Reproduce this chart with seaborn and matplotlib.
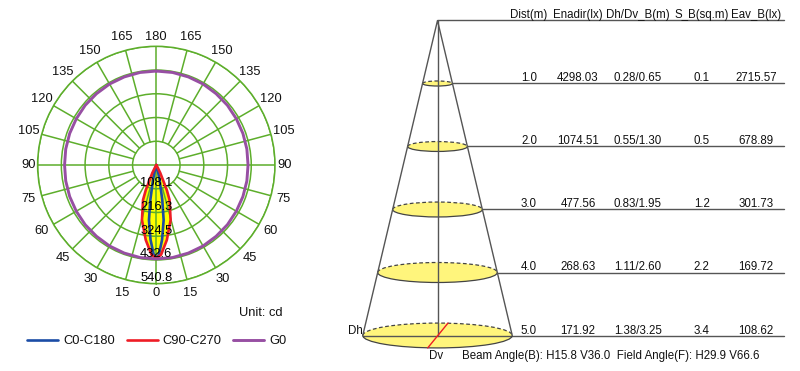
import numpy as np
import pandas as pd
import matplotlib
matplotlib.use("Agg")
import matplotlib.pyplot as plt
from matplotlib.patches import Ellipse, Arc
import seaborn as sns

# polar curve, one side of each curve (deg, cd), mirrored below
g0_angles = [0, 10, 20, 30, 40, 50, 60, 70, 80, 90, 100, 110, 120, 130, 140, 150, 160, 170, 180]
g0_cd = [428, 428, 427, 426, 424, 423, 421, 420, 419, 418, 419, 420, 421, 423, 424, 426, 427, 428, 428]
c0_angles = [0, 1.6, 4.4, 7.6, 9.7, 12.4, 14, 17]
c0_cd = [424, 410, 342, 253, 162, 70, 35, 0]
c90_angles = [0, 3, 8, 14.6, 20.8, 22.8, 24, 26.5, 28, 32]
c90_cd = [424, 410, 345, 259, 170, 123, 75, 41, 15, 0]

ring_values = [108.1, 216.3, 324.5, 432.6, 540.8]
ring_labels = ["108.1", "216.3", "324.5", "432.6", "540.8"]
spoke_angles = list(range(0, 360, 15))

# table
dist = [1.0, 2.0, 3.0, 4.0, 5.0]
enadir = ["4298.03", "1074.51", "477.56", "268.63", "171.92"]
dh = [0.28, 0.55, 0.83, 1.11, 1.38]
dv = [0.65, 1.30, 1.95, 2.60, 3.25]
s_b = ["0.1", "0.5", "1.2", "2.2", "3.4"]
eav = ["2715.57", "678.89", "301.73", "169.72", "108.62"]
headers = ["Dist(m)", "Enadir(lx)", "Dh/Dv_B(m)", "S_B(sq.m)", "Eav_B(lx)"]

GREEN = "#5DAE2B"
BLUE = "#1B4CA6"
RED = "#EE1C25"
PURPLE = "#974FA3"
DARK = "#555555"

sns.set_theme(style="white")
plt.rcParams["font.family"] = ["Liberation Sans", "DejaVu Sans"]

W, H = 800, 371
fig = plt.figure(figsize=(8, 3.71), dpi=100)

# left: polar diagram
cx, cy, R = 156.3, 165, 118.7
ax = fig.add_axes([(cx - R) / W, (H - cy - R) / H, 2 * R / W, 2 * R / H], projection="polar")
ax.set_theta_zero_location("S")
ax.set_rlim(0, 540.8)
ax.set_xticks([])
ax.set_rgrids(ring_values, labels=[""] * 5)
ax.yaxis.grid(True, color=GREEN, lw=1.1)
ax.set_axisbelow(False)
ax.spines["polar"].set_color(GREEN)
ax.spines["polar"].set_linewidth(1.1)
px = 540.8 / R


def mirrored(angles, values):
    a = np.radians(angles)
    v = np.array(values)
    return pd.DataFrame({"theta": np.r_[-a[::-1], a[1:]], "r": np.r_[v[::-1], v[1:]]})


red_df = mirrored(c90_angles, c90_cd)
blue_df = mirrored(c0_angles, c0_cd)
purple_df = mirrored(g0_angles, g0_cd)

ax.fill(red_df["theta"], red_df["r"], color="#FFFF00", zorder=1, lw=0)
for a in spoke_angles:
    start = 0 if a % 90 == 0 else ring_values[0]
    ax.plot(np.radians([a, a]), [start, 540.8], color=GREEN, lw=1.1, zorder=2.5)

sns.lineplot(data=blue_df, x="theta", y="r", sort=False, estimator=None, color=BLUE, lw=1.9, ax=ax, zorder=3, label="C0-C180")
sns.lineplot(data=red_df, x="theta", y="r", sort=False, estimator=None, color=RED, lw=1.9, ax=ax, zorder=4, label="C90-C270")
sns.lineplot(data=purple_df, x="theta", y="r", sort=False, estimator=None, color=PURPLE, lw=2.1, ax=ax, zorder=5, label="G0")
ax.set_xlabel("")
ax.set_ylabel("")
ax.set_rlim(0, 540.8)

handles, labels = ax.get_legend_handles_labels()
ax.get_legend().remove()
fig.legend(handles, labels, ncol=3, frameon=False, fontsize=9.3, loc="center left",
           bbox_to_anchor=(27 / W, (H - 341) / H), handlelength=2.4, handletextpad=0.4,
           columnspacing=0.9, borderaxespad=0, borderpad=0, labelcolor="#111111")

for a in range(0, 181, 15):
    r_lab = (128 if a % 90 == 0 else 132) * px
    for t in ([a] if a % 180 == 0 else [a, -a]):
        ax.text(np.radians(t), r_lab, str(a), ha="center", va="center", fontsize=9.3, color="#111111", clip_on=False)
for v, s in zip(ring_values, ring_labels):
    ax.text(0, v - 5.7 * px, s, ha="center", va="center", fontsize=9.3, color="black", zorder=6)
fig.text(261 / W, (H - 313) / H, "Unit: cd", ha="center", va="center", fontsize=9.3, color="#111111")

# right: beam cone, x and y in metres
apex_x, apex_y = 437.5, 20.5
mx, my = 46.0, 63.0
ax2 = fig.add_axes([340 / W, 0, 460 / W, 1])
ax2.set_xlim((340 - apex_x) / mx, (800 - apex_x) / mx)
ax2.set_ylim((371 - apex_y) / my, (0 - apex_y) / my)
ax2.patch.set_alpha(0)

line_end = (784 - apex_x) / mx
edge = dv[-1] / 2

cone = pd.DataFrame({"x": [-edge, 0, edge], "y": [dist[-1], 0, dist[-1]]})
sns.lineplot(data=cone, x="x", y="y", sort=False, estimator=None, color=DARK, lw=1, ax=ax2, zorder=4)
ax2.axis("off")
ax2.plot([0, line_end], [0, 0], color=DARK, lw=1, zorder=2)

for d, w, h in zip(dist, dv, dh):
    e_w, e_h = w, h * 18 / my
    ax2.add_patch(Ellipse((0, d), e_w, e_h, fc="#FFF57C", ec="none", zorder=1))
    ax2.add_patch(Arc((0, d), e_w, e_h, theta1=0, theta2=180, ec="#444444", lw=0.9, zorder=3))
    ax2.add_patch(Arc((0, d), e_w, e_h, theta1=180, theta2=360, ec="#444444", lw=0.9, ls=(0, (3, 2)), zorder=3))
    ax2.plot([w / 2, line_end], [d, d], color=DARK, lw=1, zorder=2)

ax2.plot([0, 0], [0, dist[-1]], color=DARK, lw=1, zorder=3)
ax2.plot([-edge, edge], [dist[-1], dist[-1]], color=DARK, lw=1, zorder=2)
ax2.plot([(427.7 - apex_x) / mx, (448 - apex_x) / mx], [dist[-1] + dh[-1] * 9 / my, dist[-1] - dh[-1] * 9 / my],
         color=RED, lw=1, zorder=5)

col_x = [(p - apex_x) / mx for p in [529, 578, 637.7, 701.7, 756]]
for x, s in zip(col_x, headers):
    ax2.text(x, (15 - apex_y) / my, s, ha="center", va="center", fontsize=8.3, color="#111111")
for i, d in enumerate(dist):
    row = [f"{d:.1f}", enadir[i], f"{dh[i]:.2f}/{dv[i]:.2f}", s_b[i], eav[i]]
    for x, s in zip(col_x, row):
        ax2.text(x, d - 5 / my, s, ha="center", va="center", fontsize=8.3, color="#111111")

ax2.text((355 - apex_x) / mx, (331 - apex_y) / my, "Dh", ha="center", va="center", fontsize=8.3, color="#111111")
ax2.text((435.7 - apex_x) / mx, (355.7 - apex_y) / my, "Dv", ha="center", va="center", fontsize=8.3, color="#111111")
ax2.text((461.7 - apex_x) / mx, (355.7 - apex_y) / my, "Beam Angle(B): H15.8 V36.0  Field Angle(F): H29.9 V66.6",
         ha="left", va="center", fontsize=8.3, color="#111111")

fig.savefig("out.png", dpi=100)
